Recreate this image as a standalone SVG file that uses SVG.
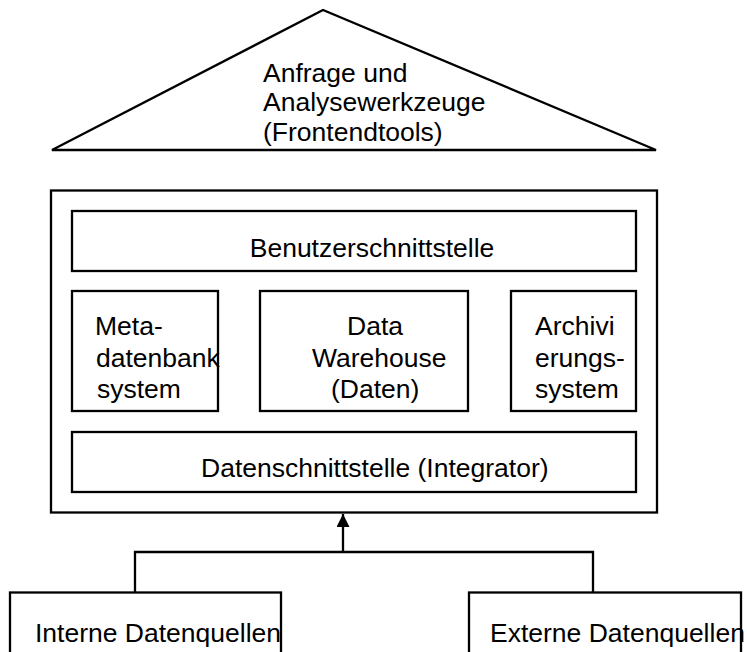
<svg xmlns="http://www.w3.org/2000/svg" width="747" height="652" viewBox="0 0 747 652">
<style>
  .shape { fill: #ffffff; stroke: #000000; stroke-width: 2.3; }
  .lbl { font-family: "Liberation Sans", Arial, sans-serif; font-size: 26.5px; fill: #000000; }
  .mid { text-anchor: middle; }
  .conn { fill: none; stroke: #000000; stroke-width: 2.3; }
</style>
<defs>
  <marker id="arrow" markerUnits="userSpaceOnUse" markerWidth="14" markerHeight="14" viewBox="0 0 14 14" refX="13" refY="6.5" orient="auto">
    <path d="M0,0 L13,6.5 L0,13 z" fill="#000000"/>
  </marker>
</defs>
<rect width="747" height="652" fill="#ffffff"/>

<g id="frontend">
  <polygon class="shape" points="323,10 52,150 656,150"/>
  <text class="lbl" x="263" y="81.5">Anfrage und</text>
  <text class="lbl" x="263" y="111">Analysewerkzeuge</text>
  <text class="lbl" x="263" y="140.5">(Frontendtools)</text>
</g>

<g id="dwh-system">
  <rect class="shape" x="51" y="190.5" width="606" height="322"/>
</g>

<g id="benutzerschnittstelle">
  <rect class="shape" x="72" y="211" width="564" height="60"/>
  <text class="lbl mid" x="372" y="257">Benutzerschnittstelle</text>
</g>

<g id="metadatenbanksystem">
  <rect class="shape" x="72" y="291" width="146" height="120"/>
  <text class="lbl" x="95" y="335">Meta-</text>
  <text class="lbl" x="96" y="366.5">datenbank</text>
  <text class="lbl" x="97" y="398">system</text>
</g>

<g id="datawarehouse">
  <rect class="shape" x="260" y="291" width="208" height="120"/>
  <text class="lbl" x="347" y="335">Data</text>
  <text class="lbl" x="312" y="366.5">Warehouse</text>
  <text class="lbl" x="331" y="398">(Daten)</text>
</g>

<g id="archivierungssystem">
  <rect class="shape" x="511" y="291" width="125" height="120"/>
  <text class="lbl" x="535" y="335">Archivi</text>
  <text class="lbl" x="535" y="366.5">erungs-</text>
  <text class="lbl" x="535" y="398">system</text>
</g>

<g id="datenschnittstelle">
  <rect class="shape" x="72" y="432" width="564" height="60"/>
  <text class="lbl" x="201" y="477">Datenschnittstelle (Integrator)</text>
</g>

<g id="interne">
  <rect class="shape" x="10" y="592.5" width="271" height="70"/>
  <text class="lbl" x="35" y="642">Interne Datenquellen</text>
</g>

<g id="externe">
  <rect class="shape" x="469" y="592.5" width="272" height="70"/>
  <text class="lbl" x="490" y="642">Externe Datenquellen</text>
</g>

<g id="connectors">
  <polyline class="conn" points="135,592.5 135,552 593,552 593,592.5"/>
  <line class="conn" x1="343" y1="552" x2="343" y2="514" marker-end="url(#arrow)"/>
</g>
</svg>
